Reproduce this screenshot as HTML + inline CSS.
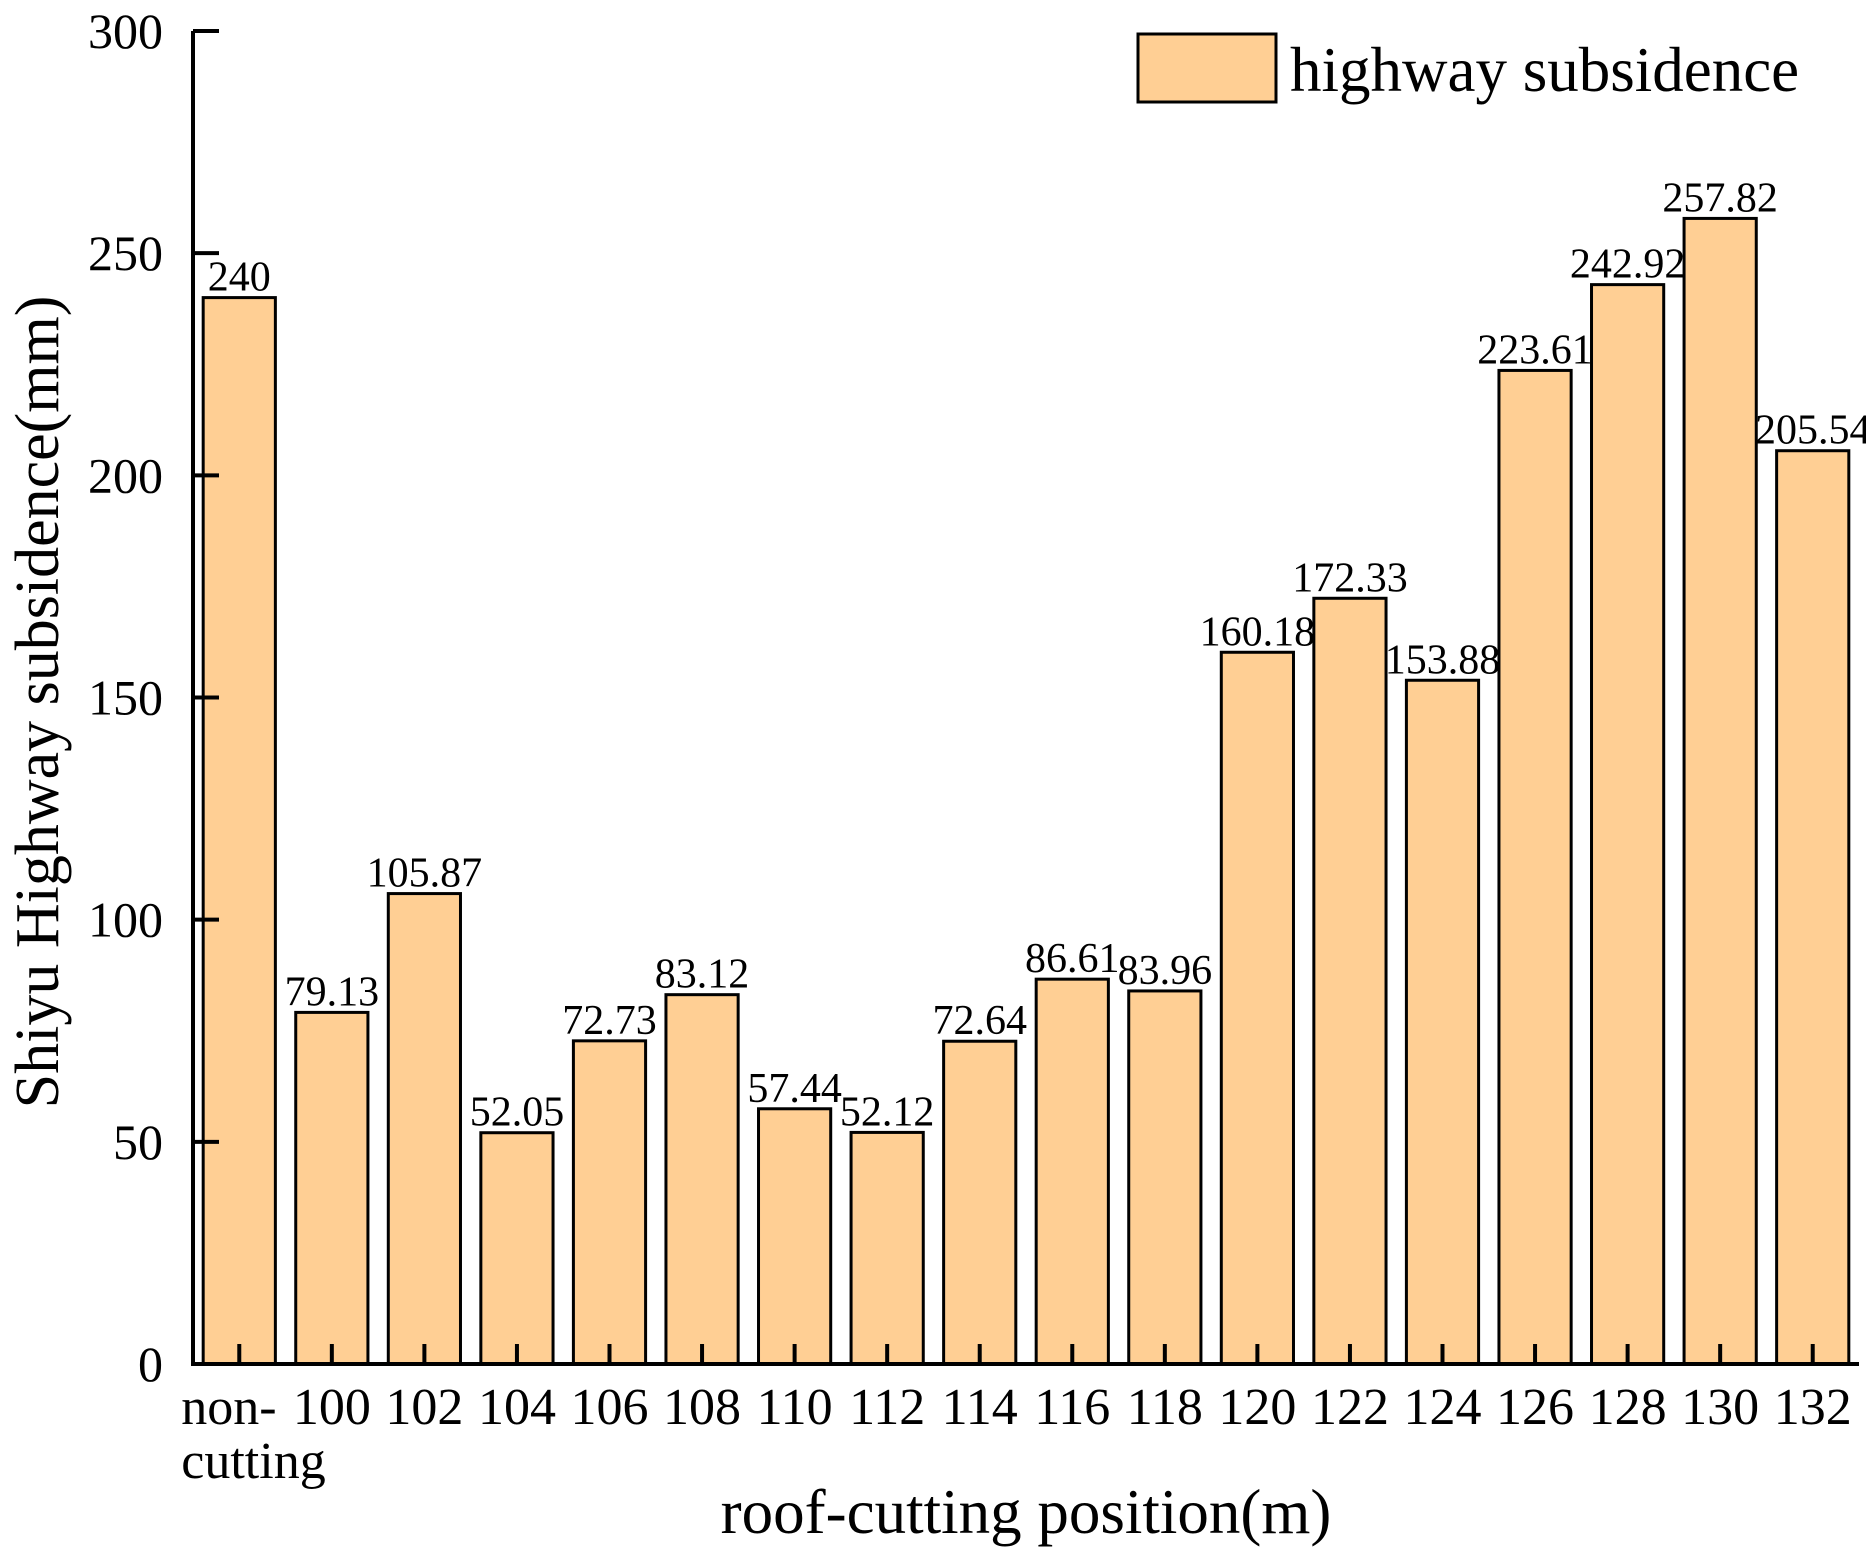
<!DOCTYPE html>
<html><head><meta charset="utf-8"><style>
html,body{margin:0;padding:0;background:#fff;}
svg{display:block;font-family:"Liberation Serif",serif;}
</style></head><body>
<svg id="chart" width="1866" height="1559" viewBox="0 0 1866 1559">
<g id="bars"></g>
<g id="axes"></g>
<text x="1290" y="91" font-size="63">highway subsidence</text>
<rect x="1138" y="34" width="138" height="68" fill="#ffcf94" stroke="#000" stroke-width="3"/>
<text x="1026" y="1533" font-size="63" text-anchor="middle">roof-cutting position(m)</text>
<text transform="translate(58,702) rotate(-90)" font-size="62" text-anchor="middle">Shiyu Highway subsidence(mm)</text>
</svg>
<script>
const categories = ["non-cutting","100","102","104","106","108","110","112","114","116","118","120","122","124","126","128","130","132"];
const values = [240,79.13,105.87,52.05,72.73,83.12,57.44,52.12,72.64,86.61,83.96,160.18,172.33,153.88,223.61,242.92,257.82,205.54];
const valueLabels = ["240","79.13","105.87","52.05","72.73","83.12","57.44","52.12","72.64","86.61","83.96","160.18","172.33","153.88","223.61","242.92","257.82","205.54"];
const yTicks = [0,50,100,150,200,250,300];

const NS = "http://www.w3.org/2000/svg";
const X0 = 193, X1 = 1859, Y0 = 1364, Y1 = 31, YMAX = 300;
const band = (X1 - X0) / categories.length;
const barW = band * 0.78;
function xCenter(i){ return X0 + band * (i + 0.5); }
function yPos(v){ return Y0 - (v / YMAX) * (Y0 - Y1); }
function mk(tag, attrs, parent){ const e = document.createElementNS(NS, tag); for (const k in attrs) e.setAttribute(k, attrs[k]); parent.appendChild(e); return e; }

const gb = document.getElementById('bars');
const ga = document.getElementById('axes');
values.forEach((v, i) => {
  const r = mk('rect', {x: xCenter(i) - barW/2, y: yPos(v), width: barW, height: Y0 - yPos(v), fill: '#ffcf94', stroke: '#000', 'stroke-width': 3}, gb);
  
  
  const t = mk('text', {x: xCenter(i), y: yPos(v) - 7, 'font-size': 42, 'text-anchor': 'middle'}, gb);
  t.textContent = valueLabels[i];
  
  
});
const yl = mk('line', {x1: X0, y1: Y1, x2: X0, y2: Y0 + 2, stroke: '#000', 'stroke-width': 4}, ga);


const xl = mk('line', {x1: X0 - 2, y1: Y0, x2: X1, y2: Y0, stroke: '#000', 'stroke-width': 4}, ga);


yTicks.forEach(v => {
  const y = yPos(v);
  const tk = mk('line', {x1: X0, y1: y, x2: X0 + 26, y2: y, stroke: '#000', 'stroke-width': 4}, ga);
  
  
  const t = mk('text', {x: X0 - 30, y: y + 17, 'font-size': 50, 'text-anchor': 'end'}, ga);
  t.textContent = v;
  
  
});
categories.forEach((c, i) => {
  const x = xCenter(i);
  const tk = mk('line', {x1: x, y1: Y0, x2: x, y2: Y0 - 20, stroke: '#000', 'stroke-width': 4}, ga);
  
  
  if (c === 'non-cutting') {
    const t = mk('text', {x: x - 58, y: 1424, 'font-size': 52}, ga);
    t.textContent = 'non-';
    
    
    const t2 = mk('text', {x: x - 58, y: 1478, 'font-size': 52}, ga);
    t2.textContent = 'cutting';
    
    
  } else {
    const t = mk('text', {x: x, y: 1424, 'font-size': 52, 'text-anchor': 'middle'}, ga);
    t.textContent = c;
    
    
  }
});
</script>
</body></html>
